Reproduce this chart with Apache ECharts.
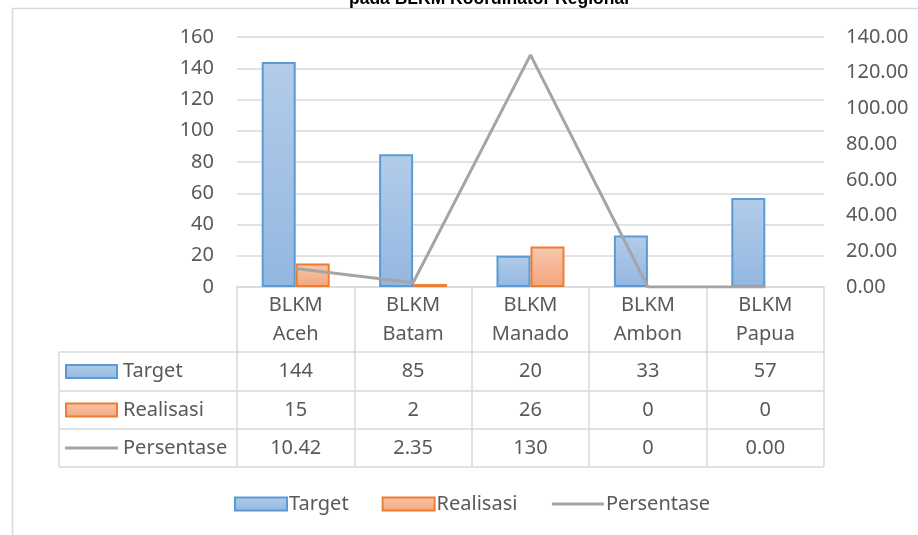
<!DOCTYPE html>
<html>
<head>
<meta charset="utf-8">
<script src="https://cdn.jsdelivr.net/npm/echarts@6/dist/echarts.min.js"></script>
<style>
  html, body { margin: 0; padding: 0; background: #fff; }
  #main { width: 918px; height: 535px; }
</style>
</head>
<body>
<div id="main"></div>
<script>
var titleText = 'pada BLKM Koordinator Regional';
var categories = ['BLKM Aceh', 'BLKM Batam', 'BLKM Manado', 'BLKM Ambon', 'BLKM Papua'];
var seriesNames = ['Target', 'Realisasi', 'Persentase'];
var targetValues = [144, 85, 20, 33, 57];
var realisasiValues = [15, 2, 26, 0, 0];
var persentaseValues = [10.42, 2.35, 130, 0, 0];
// as printed in the data table
var targetLabels = ['144', '85', '20', '33', '57'];
var realisasiLabels = ['15', '2', '26', '0', '0'];
var persentaseLabels = ['10.42', '2.35', '130', '0', '0.00'];

var font = 'Noto Sans';
var txtColor = '#595959';
var gridColor = '#d9d9d9';

var blueFill = new echarts.graphic.LinearGradient(0, 0, 0, 1, [
	{ offset: 0, color: '#b3cce9' },
	{ offset: 1, color: '#93b7e1' }
]);
var orangeFill = new echarts.graphic.LinearGradient(0, 0, 0, 1, [
	{ offset: 0, color: '#f8c9ae' },
	{ offset: 1, color: '#f4a47c' }
]);

// a zero bar has no visible outline in the original
function barData(values) {
	return values.map(function(v) {
		return v === 0 ? { value: v, itemStyle: { borderWidth: 0 } } : v;
	});
}

var myChart = echarts.init(document.getElementById('main'));

var gridTop = 37, gridBottomY = 287, gridLeft = 237, gridRight = 824;
var rowLines = [352, 391, 429, 467];
var tableLeft = 59;

var option = {
	backgroundColor: '#fff',
	animation: false,
	title: {
		text: titleText,
		left: 484,
		textAlign: 'center',
		top: -15,
		textStyle: {
			fontFamily: 'Liberation Sans',
			fontWeight: 'bold',
			fontSize: 17.5,
			color: '#000'
		}
	},
	legend: {
		left: 234,
		top: 494,
		padding: 0,
		itemWidth: 52,
		itemHeight: 13,
		itemGap: 33,
		data: [
			{ name: seriesNames[0], icon: 'rect' },
			{ name: seriesNames[1], icon: 'rect' },
			{ name: seriesNames[2], itemStyle: { opacity: 0 }, lineStyle: { width: 3, color: '#a5a5a5' } }
		],
		textStyle: {
			fontFamily: font,
			fontSize: 20,
			color: txtColor,
			padding: [0, 0, 0, -3]
		}
	},
	grid: {
		left: gridLeft,
		right: 918 - gridRight,
		top: gridTop,
		bottom: 535 - gridBottomY,
		containLabel: false
	},
	xAxis: {
		type: 'category',
		data: categories,
		axisLine: { show: true, lineStyle: { color: gridColor, width: 1.5 } },
		axisTick: { show: true, length: rowLines[3] - gridBottomY, lineStyle: { color: gridColor, width: 1.5 } },
		axisLabel: {
			margin: 4,
			fontFamily: font,
			fontSize: 20,
			lineHeight: 29,
			color: txtColor,
			formatter: function(v) {
				return v.replace(' ', '\n');
			}
		}
	},
	yAxis: [{
		type: 'value',
		min: 0,
		max: 160,
		interval: 20,
		axisLine: { show: false },
		axisTick: { show: false },
		splitLine: { lineStyle: { color: gridColor, width: 1.5 } },
		axisLabel: {
			margin: 23,
			fontFamily: font,
			fontSize: 20,
			color: txtColor
		}
	}, {
		type: 'value',
		min: 0,
		max: 140,
		interval: 20,
		axisLine: { show: false },
		axisTick: { show: false },
		splitLine: { show: false },
		axisLabel: {
			margin: 22,
			fontFamily: font,
			fontSize: 20,
			color: txtColor,
			formatter: function(v) {
				return v.toFixed(2);
			}
		}
	}],
	series: [{
		name: seriesNames[0],
		type: 'bar',
		barWidth: 34,
		barGap: '0%',
		data: barData(targetValues),
		itemStyle: { color: blueFill, borderColor: '#5b9bd5', borderWidth: 2 }
	}, {
		name: seriesNames[1],
		type: 'bar',
		barWidth: 34,
		data: barData(realisasiValues),
		itemStyle: { color: orangeFill, borderColor: '#ed7d31', borderWidth: 2 }
	}, {
		name: seriesNames[2],
		type: 'line',
		yAxisIndex: 1,
		data: persentaseValues,
		symbol: 'none',
		lineStyle: { color: '#a5a5a5', width: 3 },
		itemStyle: { color: '#a5a5a5' }
	}]
};
myChart.setOption(option);

// data table under the plot
var graphics = [];
// chart area border
graphics.push({
	type: 'rect',
	shape: { x: 12.5, y: 8.5, width: 1000, height: 1000 },
	style: { fill: null, stroke: gridColor, lineWidth: 1.5 },
	silent: true
});
rowLines.forEach(function(y) {
	graphics.push({
		type: 'line',
		shape: { x1: tableLeft, y1: y, x2: gridRight, y2: y },
		style: { stroke: gridColor, lineWidth: 1.5 }
	});
});
graphics.push({
	type: 'line',
	shape: { x1: tableLeft, y1: rowLines[0], x2: tableLeft, y2: rowLines[3] },
	style: { stroke: gridColor, lineWidth: 1.5 }
});

var rows = [targetLabels, realisasiLabels, persentaseLabels];
for (var r = 0; r < rows.length; r++) {
	var cy = (rowLines[r] + rowLines[r + 1]) / 2;
	// row key
	if (r < 2) {
		graphics.push({
			type: 'rect',
			shape: { x: 66, y: cy - 6.5, width: 51, height: 13 },
			style: {
				fill: r == 0 ? blueFill : orangeFill,
				stroke: r == 0 ? '#5b9bd5' : '#ed7d31',
				lineWidth: 2
			}
		});
	} else {
		graphics.push({
			type: 'line',
			shape: { x1: 65, y1: cy, x2: 118, y2: cy },
			style: { stroke: '#a5a5a5', lineWidth: 3 }
		});
	}
	graphics.push({
		type: 'text',
		x: 123,
		y: cy,
		style: {
			text: seriesNames[r],
			fontFamily: font,
			fontSize: 20,
			fill: txtColor,
			textVerticalAlign: 'middle'
		}
	});
	for (var i = 0; i < categories.length; i++) {
		var cx = myChart.convertToPixel({ xAxisIndex: 0 }, categories[i]);
		graphics.push({
			type: 'text',
			x: cx,
			y: cy,
			style: {
				text: rows[r][i],
				fontFamily: font,
				fontSize: 20,
				fill: txtColor,
				textAlign: 'center',
				textVerticalAlign: 'middle'
			}
		});
	}
}
myChart.setOption({ graphic: graphics });
</script>
</body>
</html>
